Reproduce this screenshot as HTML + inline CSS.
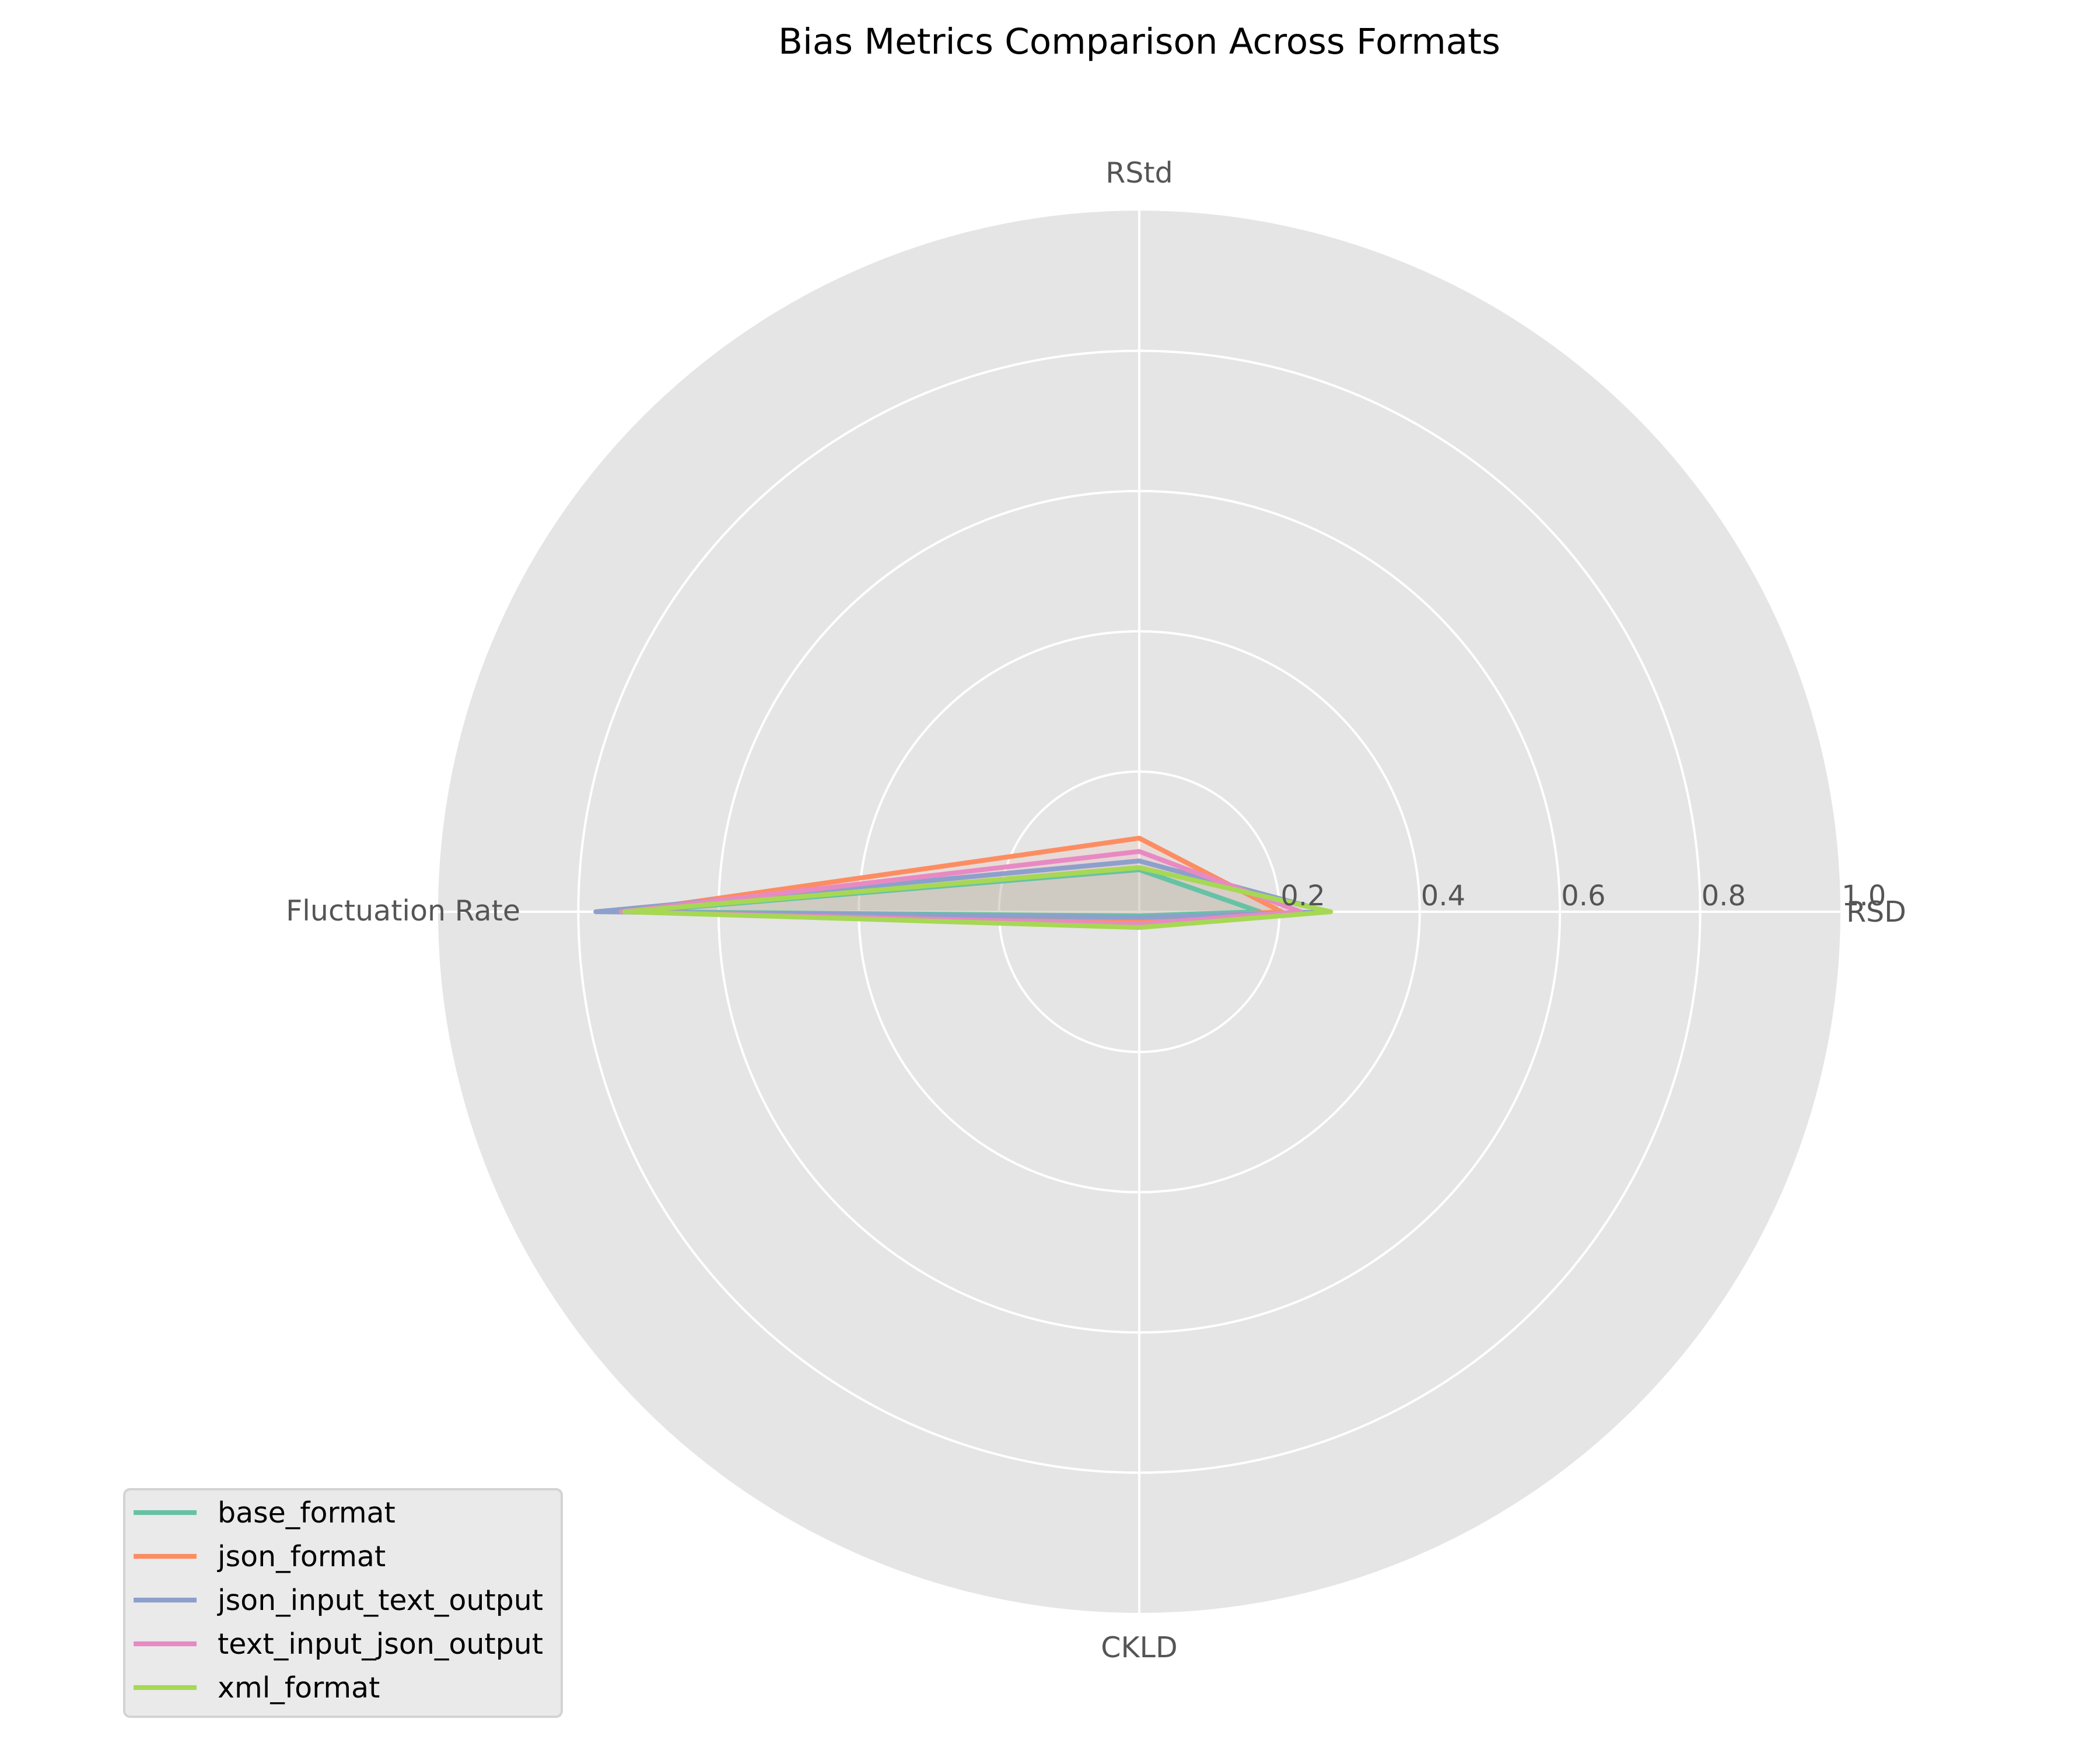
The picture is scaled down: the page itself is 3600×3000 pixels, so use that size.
<!DOCTYPE html>
<html><head><meta charset="utf-8">
<style>
html,body{margin:0;padding:0;background:#fff;}
svg{display:block;font-family:"DejaVu Sans","Liberation Sans",sans-serif;}
</style></head>
<body>
<svg id="chart" width="3600" height="3000" viewBox="0 0 3600 3000" xmlns="http://www.w3.org/2000/svg">
<rect x="0" y="0" width="3600" height="3000" fill="#ffffff"/>
<text x="1953" y="92" font-size="61" text-anchor="middle" fill="#000">Bias Metrics Comparison Across Formats</text>
<g id="plot"></g>
<g id="legend"></g>
</svg>
<script>
const categories = ["RSD", "RStd", "Fluctuation Rate", "CKLD"];
const seriesNames = ["base_format", "json_format", "json_input_text_output", "text_input_json_output", "xml_format"];
const baseFormat = [0.172, 0.06, 0.72, 0.006];
const jsonFormat = [0.203, 0.105, 0.735, 0.011];
const jsonInputTextOutput = [0.27, 0.0725, 0.775, 0.008];
const textInputJsonOutput = [0.23, 0.086, 0.739, 0.0175];
const xmlFormat = [0.273, 0.063, 0.734, 0.0225];
const rTicks = [0.2, 0.4, 0.6, 0.8, 1.0];
const rTickLabels = ["0.2", "0.4", "0.6", "0.8", "1.0"];

const seriesValues = [baseFormat, jsonFormat, jsonInputTextOutput, textInputJsonOutput, xmlFormat];
const colors = ["#66c2a5", "#fc8d62", "#8da0cb", "#e78ac3", "#a6d854"];
const NS = "http://www.w3.org/2000/svg";
const CX = 1953, CY = 1563, R = 1202, RMAX = 1.0;
function rScale(v){ return v / RMAX * R; }
function angle(i){ return i * 2 * Math.PI / categories.length; }
function px(i, v){ return CX + rScale(v) * Math.cos(angle(i)); }
function py(i, v){ return CY - rScale(v) * Math.sin(angle(i)); }
function mk(tag, attrs, parent){ const e = document.createElementNS(NS, tag); for (const k in attrs) e.setAttribute(k, attrs[k]); parent.appendChild(e); return e; }

const plot = document.getElementById('plot');
const bg = mk('circle', {cx: CX, cy: CY, r: R, fill: '#e5e5e5'}, plot);


rTicks.forEach((t, k) => {
  if (t >= RMAX) return;
  const c = mk('circle', {cx: CX, cy: CY, r: rScale(t), fill: 'none', stroke: '#ffffff', 'stroke-width': 4}, plot);
  
  
});
categories.forEach((c, i) => {
  const l = mk('line', {x1: CX, y1: CY, x2: px(i, RMAX), y2: py(i, RMAX), stroke: '#ffffff', 'stroke-width': 4}, plot);
  
  
});
seriesValues.forEach((vals, s) => {
  const pts = vals.map((v, i) => px(i, v).toFixed(1) + ',' + py(i, v).toFixed(1)).join(' ');
  const f = mk('polygon', {points: pts, fill: colors[s], 'fill-opacity': 0.1, stroke: 'none'}, plot);
  
  
});
seriesValues.forEach((vals, s) => {
  const pts = vals.map((v, i) => px(i, v).toFixed(1) + ',' + py(i, v).toFixed(1)).join(' ');
  const p = mk('polygon', {points: pts, fill: 'none', stroke: colors[s], 'stroke-width': 8.3, 'stroke-linejoin': 'round'}, plot);
  
  
});
rTicks.forEach((t, k) => {
  const tx = mk('text', {x: CX + rScale(t) + 2, y: 1552, 'font-size': 48, fill: '#555555'}, plot);
  tx.textContent = rTickLabels[k];
  
  
});
const labelPos = [
  {x: 3165, y: 1580, a: 'start'},
  {x: 1953, y: 313, a: 'middle'},
  {x: 892, y: 1578, a: 'end'},
  {x: 1953, y: 2841, a: 'middle'}
];
categories.forEach((c, i) => {
  const tx = mk('text', {x: labelPos[i].x, y: labelPos[i].y, 'font-size': 49, fill: '#555555', 'text-anchor': labelPos[i].a}, plot);
  tx.textContent = c;
  
  
});

const legend = document.getElementById('legend');
const box = mk('rect', {x: 213, y: 2553, width: 750, height: 390, rx: 10, fill: '#eaeaea', stroke: '#d3d3d3', 'stroke-width': 4}, legend);


seriesNames.forEach((n, s) => {
  const y = 2593 + s * 75;
  const g = mk('g', {}, legend);
  
  
  const l = mk('line', {x1: 229, y1: y, x2: 337, y2: y, stroke: colors[s], 'stroke-width': 8.3}, g);
  
  
  const t = mk('text', {x: 373, y: y + 17, 'font-size': 49, fill: '#000'}, g);
  t.textContent = n;
  
  
});
</script>
</body></html>
